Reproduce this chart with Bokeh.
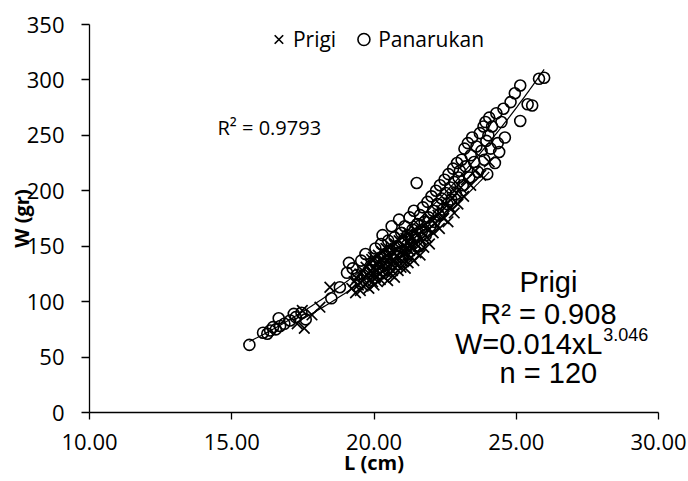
import numpy as np
from bokeh.plotting import figure
from bokeh.models import Range1d, FixedTicker, NumeralTickFormatter, Legend, LegendItem, Label
from bokeh.embed import file_html
from bokeh.resources import INLINE

# ---- data ----
prigi_L = [17.30, 17.48, 17.55, 17.82, 18.10, 18.45,
           19.22, 19.30, 19.35, 19.40, 19.45, 19.50, 19.52, 19.58, 19.60, 19.62,
           19.70, 19.72, 19.75, 19.80, 19.82, 19.85, 19.88, 19.90, 19.92, 19.95, 19.97, 20.00, 20.00, 19.98,
           20.05, 20.08, 20.10, 20.12, 20.15, 20.18, 20.20, 20.22, 20.25, 20.28, 20.30, 20.32, 20.35, 20.38,
           20.40, 20.42, 20.45, 20.46, 20.48, 20.50,
           20.52, 20.55, 20.58, 20.60, 20.62, 20.65, 20.68, 20.70, 20.72, 20.75, 20.78, 20.80, 20.82, 20.85,
           20.88, 20.90, 20.92, 20.95, 20.98, 21.00,
           21.03, 21.05, 21.08, 21.10, 21.12, 21.15, 21.18, 21.20, 21.22, 21.25, 21.28, 21.30, 21.32, 21.35,
           21.40, 21.42, 21.45, 21.48,
           21.52, 21.55, 21.60, 21.62, 21.66, 21.70, 21.75, 21.80, 21.85, 21.90, 21.95, 22.00, 22.08, 22.15,
           22.25, 22.30, 22.38, 22.45, 22.52, 22.60, 22.68, 22.75, 22.82, 22.90, 22.95, 23.05, 23.15, 23.25,
           23.40, 23.55, 23.75, 24.05]
prigi_W = [80, 92, 76, 88, 95, 113,
           112, 118, 108, 121, 115, 125, 110, 119, 128, 114,
           122, 131, 117, 126, 112, 134, 120, 128, 138, 118, 125, 131, 115, 140,
           122, 135, 128, 118, 142, 125, 132, 120, 138, 145, 127, 133, 122, 140,
           130, 148, 126, 136, 119, 143,
           131, 139, 125, 150, 134, 128, 145, 137, 122, 152, 141, 133, 147, 128,
           155, 139, 144, 131, 158, 142,
           136, 150, 145, 130, 157, 141, 148, 135, 162, 146, 152, 140, 158, 149,
           137, 165, 153, 144,
           160, 150, 168, 142, 156, 163, 149, 170, 158, 165, 152, 174, 162, 171,
           178, 166, 182, 175, 188, 172, 185, 193, 180, 198, 188, 203, 195, 210,
           205, 218, 214, 226]

panarukan_L = [15.62, 16.10, 16.25, 16.35, 16.45, 16.55, 16.65, 16.70, 16.85, 17.05, 17.18, 17.25, 17.45, 17.60,
               18.50, 18.80, 19.05, 19.12, 19.25, 19.40, 19.55, 19.70, 19.85,
               20.00, 20.05, 20.15, 20.25, 20.30, 20.38, 20.45, 20.50, 20.55, 20.62, 20.68, 20.72, 20.80, 20.88,
               20.92, 20.96, 21.00, 21.02,
               21.08, 21.12, 21.18, 21.25, 21.30, 21.35, 21.40, 21.45, 21.50, 21.52, 21.58, 21.62, 21.68, 21.72,
               21.78, 21.82, 21.88, 21.92, 21.98,
               22.02, 22.08, 22.12, 22.18, 22.22, 22.28, 22.32, 22.38, 22.42, 22.48, 22.52, 22.58, 22.62, 22.68,
               22.72, 22.78, 22.82, 22.88, 22.92, 22.97,
               23.02, 23.08, 23.12, 23.18, 23.22, 23.30, 23.35, 23.40, 23.45, 23.52, 23.60, 23.65, 23.72, 23.78,
               23.85, 23.88, 23.92, 23.95, 23.98, 24.02,
               24.05, 24.10, 24.15, 24.25, 24.30, 24.35, 24.40, 24.48, 24.55, 24.60, 24.80, 24.95, 25.14, 25.40,
               25.56, 25.14, 25.80, 25.98]
panarukan_W = [61, 72, 71, 74, 77, 75, 85, 78, 80, 83, 89, 86, 90, 84,
               103, 113, 126, 135, 130, 124, 137, 143, 129,
               136, 148, 130, 152, 160, 141, 134, 155, 146, 168, 138, 158, 150, 174,
               145, 162, 140, 155,
               168, 147, 160, 176, 152, 165, 182, 158, 207, 170, 150, 178, 163, 185,
               172, 160, 190, 176, 168,
               195, 182, 172, 200, 188, 178, 205, 193, 183, 210, 198, 188, 215, 203,
               192, 220, 208, 197, 225, 212,
               218, 228, 205, 238, 222, 243, 212, 232, 248, 226, 240, 217, 252, 236,
               258, 228, 262, 245, 215, 250,
               266, 238, 258, 225, 270, 243, 235, 262, 274, 248, 280, 288, 295, 278,
               277, 263, 301, 302]

x_ticks = [10, 15, 20, 25, 30]
y_ticks = [0, 50, 100, 150, 200, 250, 300, 350]

series_names = ["Prigi", "Panarukan"]
ann_prigi = ["Prigi", "R\u00b2 = 0.908", "W=0.014xL", "3.046", "n = 120"]
ann_panarukan = "R\u00b2 = 0.9793"

TICK_FONT = "Open Sans"
ANN_FONT = "Liberation Sans"

p = figure(width=688, height=481, output_backend="svg", toolbar_location=None,
           x_range=Range1d(10, 30), y_range=Range1d(0, 350),
           min_border_left=89, min_border_right=30, min_border_top=24, min_border_bottom=69)
p.outline_line_color = None
p.grid.visible = False
p.background_fill_color = "white"
p.border_fill_color = "white"

for ax in (p.xaxis[0], p.yaxis[0]):
    ax.axis_line_color = "black"
    ax.axis_line_width = 1.3
    ax.major_tick_line_color = "black"
    ax.major_tick_line_width = 1.3
    ax.major_tick_in = 0
    ax.minor_tick_line_color = None
    ax.major_label_text_font = TICK_FONT
    ax.major_label_text_font_size = "22px"
    ax.major_label_text_color = "black"
    ax.axis_label_text_font = TICK_FONT
    ax.axis_label_text_font_size = "20px"
    ax.axis_label_text_font_style = "bold"
    ax.axis_label_text_color = "black"

p.xaxis.ticker = FixedTicker(ticks=x_ticks)
p.xaxis.formatter = NumeralTickFormatter(format="0.00")
p.xaxis.major_tick_out = 7
p.xaxis.major_label_standoff = 14
p.xaxis.axis_label = "L (cm)"
p.xaxis.axis_label_standoff = -4

p.yaxis.ticker = FixedTicker(ticks=y_ticks)
p.yaxis.major_tick_out = 8
p.yaxis.major_label_standoff = 17
p.yaxis.axis_label = "W (gr)"
p.yaxis.axis_label_standoff = -11

# trend lines (power fits computed from the data, as in the spreadsheet)
def power_fit(L, W):
    L = np.asarray(L, float); W = np.asarray(W, float)
    b, ln_a = np.polyfit(np.log(L), np.log(W), 1)
    xs = np.linspace(L.min(), L.max(), 120)
    return xs, np.exp(ln_a) * xs ** b

for L, W in ((prigi_L, prigi_W), (panarukan_L, panarukan_W)):
    xs, ys = power_fit(L, W)
    p.line(xs, ys, line_color="black", line_width=1.2)

r_prigi = p.scatter(prigi_L, prigi_W, marker="x", size=15, line_color="black", line_width=1.7)
r_pan = p.scatter(panarukan_L, panarukan_W, marker="circle", size=11, fill_alpha=0,
                  line_color="black", line_width=1.6)

legend = Legend(items=[LegendItem(label=series_names[0], renderers=[r_prigi]),
                       LegendItem(label=series_names[1], renderers=[r_pan])],
                orientation="horizontal", location="top_center",
                border_line_color=None, background_fill_alpha=0,
                label_text_font=TICK_FONT, label_text_font_size="21px", label_text_color="black",
                glyph_width=30, glyph_height=30, spacing=12, padding=0, margin=0,
                label_standoff=0)
p.add_layout(legend)

# annotations
p.add_layout(Label(x=14.5, y=257, text=ann_panarukan, text_font=TICK_FONT, text_color="black",
                   text_font_size="20px", text_align="left", text_baseline="alphabetic"))
ann_x = 26.13
p.add_layout(Label(x=ann_x, y=117.3, text=ann_prigi[0], text_font=ANN_FONT, text_color="black",
                   text_font_size="29px", text_align="center", text_baseline="alphabetic"))
p.add_layout(Label(x=ann_x, y=89.3, text=ann_prigi[1], text_font=ANN_FONT, text_color="black",
                   text_font_size="29px", text_align="center", text_baseline="alphabetic"))
p.add_layout(Label(x=28.03, y=62.2, text=ann_prigi[2], text_font=ANN_FONT, text_color="black",
                   text_font_size="29px", text_align="right", text_baseline="alphabetic"))
p.add_layout(Label(x=28.06, y=70.4, text=ann_prigi[3], text_font=ANN_FONT, text_color="black",
                   text_font_size="18px", text_align="left", text_baseline="alphabetic"))
p.add_layout(Label(x=ann_x, y=35.2, text=ann_prigi[4], text_font=ANN_FONT, text_color="black",
                   text_font_size="29px", text_align="center", text_baseline="alphabetic"))

open("out.html", "w").write(file_html(p, INLINE))
